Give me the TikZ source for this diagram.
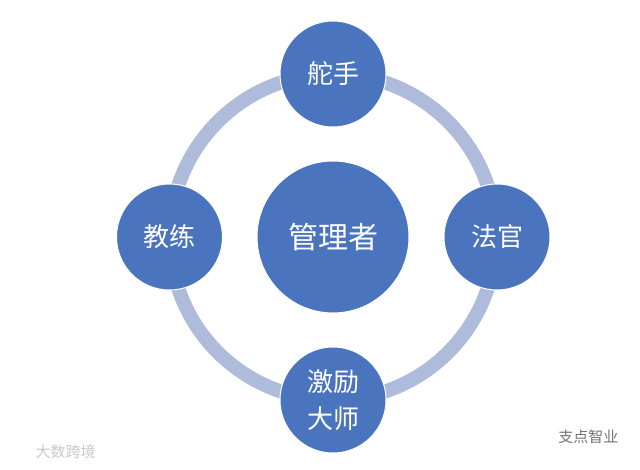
\documentclass[tikz,border=0pt]{standalone}
\usepackage{fontspec}
\newfontfamily\cjk{Noto Sans CJK SC}
\usetikzlibrary{positioning}
\definecolor{roleblue}{HTML}{4A74BE}
\definecolor{ringblue}{HTML}{AEBBDA}
\definecolor{markgray}{HTML}{C8C8C8}
\tikzset{
    hub/.style={circle, draw=white, line width=1pt, fill=roleblue, minimum size=152pt, inner sep=0pt, text=white, font=\cjk\fontsize{30}{36}\selectfont},
    role/.style={circle, draw=white, line width=1pt, fill=roleblue, minimum size=106pt, inner sep=0pt, text=white, align=center, font=\cjk\fontsize{26}{37}\selectfont},
    ring/.style={draw=ringblue, line width=14pt},
    watermark/.style={text=markgray, font=\cjk\fontsize{15}{18}\selectfont}
}
\begin{document}
\begin{tikzpicture}[x=1pt, y=1pt]
    \useasboundingbox (0,0) rectangle (640,469);
    \coordinate (centre) at (333,232);
    \draw[ring] (centre) circle[radius=163];
    \node[hub] (manager) at (centre) {管理者};
    \node[role] (helmsman) at (333,395) {舵手};
    \node[role] (coach) at (169.5,232) {教练};
    \node[role] (judge) at (497,232) {法官};
    \node[role] (motivator) at (333,69) {激励\\大师};
    % watermarks
    \node[watermark, anchor=west] (srcleft) at (32,17) {大数跨境};
    \node[watermark, anchor=east, text=black!55] (srcright) at (622,32) {支点智业};
\end{tikzpicture}
\end{document}
